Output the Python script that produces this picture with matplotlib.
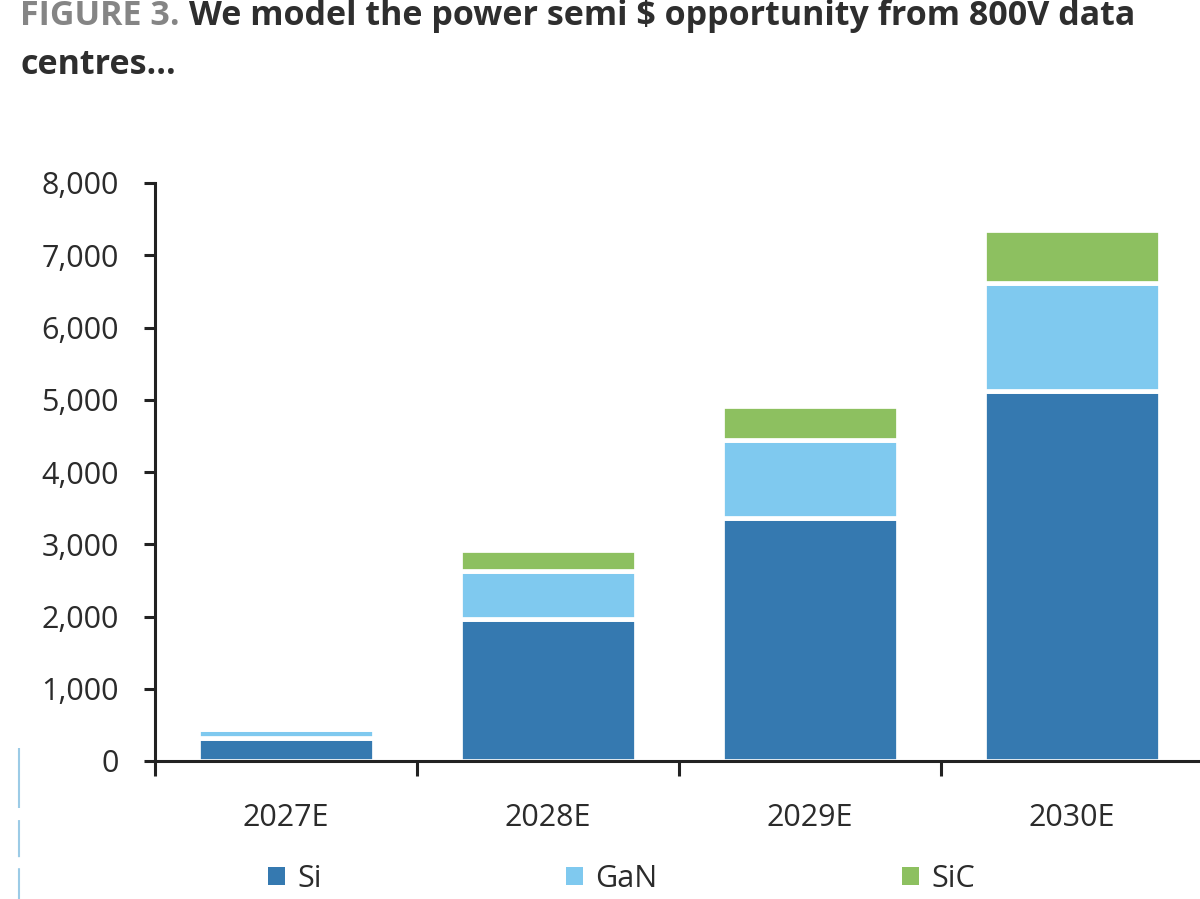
import matplotlib
matplotlib.use("Agg")
import matplotlib.pyplot as plt
from matplotlib.lines import Line2D
from matplotlib.ticker import FuncFormatter, FixedLocator
import numpy as np

categories = ["2027E", "2028E", "2029E", "2030E"]
si = [320, 1970, 3360, 5120]
gan = [120, 660, 1080, 1490]
sic = [0, 290, 480, 740]
series_names = ["Si", "GaN", "SiC"]
colors = ["#3579b0", "#7fc9ef", "#8dc060"]
yticks = [0, 1000, 2000, 3000, 4000, 5000, 6000, 7000, 8000]

plt.rcParams["font.family"] = ["Open Sans", "DejaVu Sans"]
W, H = 1200, 899
fig = plt.figure(figsize=(W / 100, H / 100), dpi=100)
ax = fig.add_axes([155 / W, (H - 761) / H, 1048 / W, (761 - 183) / H])

x = np.arange(len(categories))
bw = 0.67
bottom = np.zeros(len(categories))
handles = []
for vals, name, c in zip([si, gan, sic], series_names, colors):
    b = ax.bar(x, vals, bw, bottom=bottom, color=c, edgecolor="white",
               linewidth=3.4, label=name, zorder=2)
    handles.append(b)
    bottom = bottom + np.array(vals)

ax.set_xlim(-0.5, 3.5)
ax.set_ylim(0, 8000)
ax.set_yticks(yticks)
ax.yaxis.set_major_formatter(FuncFormatter(lambda v, p: f"{int(v):,}"))
ax.set_xticks(x)
ax.set_xticklabels(categories)
ax.xaxis.set_minor_locator(FixedLocator(np.arange(-0.5, 4.0, 1.0)))
ax.tick_params(axis="x", which="major", length=0, pad=30, labelsize=22, labelcolor="#2b2b2b")
ax.tick_params(axis="x", which="minor", length=11, width=2.2, color="#222222", direction="out")
ax.tick_params(axis="y", length=8, width=2.2, color="#222222", pad=18, labelsize=22, labelcolor="#2b2b2b")
for s in ["top", "right"]:
    ax.spines[s].set_visible(False)
for s in ["left", "bottom"]:
    ax.spines[s].set_linewidth(2.2)
    ax.spines[s].set_color("#222222")
ax.spines["left"].set_bounds(0, 8000)

# Title
t1 = fig.text(20 / W, 1 - 25 / H, "FIGURE 3.", fontsize=24.5, fontweight="bold",
              color="#858585", ha="left", va="baseline")
fig.canvas.draw()
bb = t1.get_window_extent()
fig.text((bb.x1 + 9) / W, 1 - 25 / H, "We model the power semi $ opportunity from 800V data",
         fontsize=24.5, fontweight="bold", color="#2e2e2e", ha="left", va="baseline")
fig.text(20 / W, 1 - 74 / H, "centres...", fontsize=24.5, fontweight="bold",
         color="#2e2e2e", ha="left", va="baseline")

# Legend
leg = fig.legend(handles=handles, labels=series_names, loc="center",
                 bbox_to_anchor=(0.518, (H - 879) / H), ncol=3, frameon=False,
                 fontsize=22, columnspacing=8.0, handlelength=0.55, handleheight=0.55,
                 handletextpad=0.4, borderpad=0, borderaxespad=0)
for t in leg.get_texts():
    t.set_color("#2b2b2b")
for h in leg.legend_handles:
    h.set_linewidth(0)

# scanning artefact on left edge (dashed light-blue line)
fig.add_artist(Line2D([19 / W, 19 / W], [1 - 748 / H, 0], color="#9ccbe6",
                      linewidth=1.5, linestyle=(0, (28.8, 5.8, 17.8, 5.3, 40, 5)),
                      transform=fig.transFigure))

fig.savefig("out.png", dpi=100)
